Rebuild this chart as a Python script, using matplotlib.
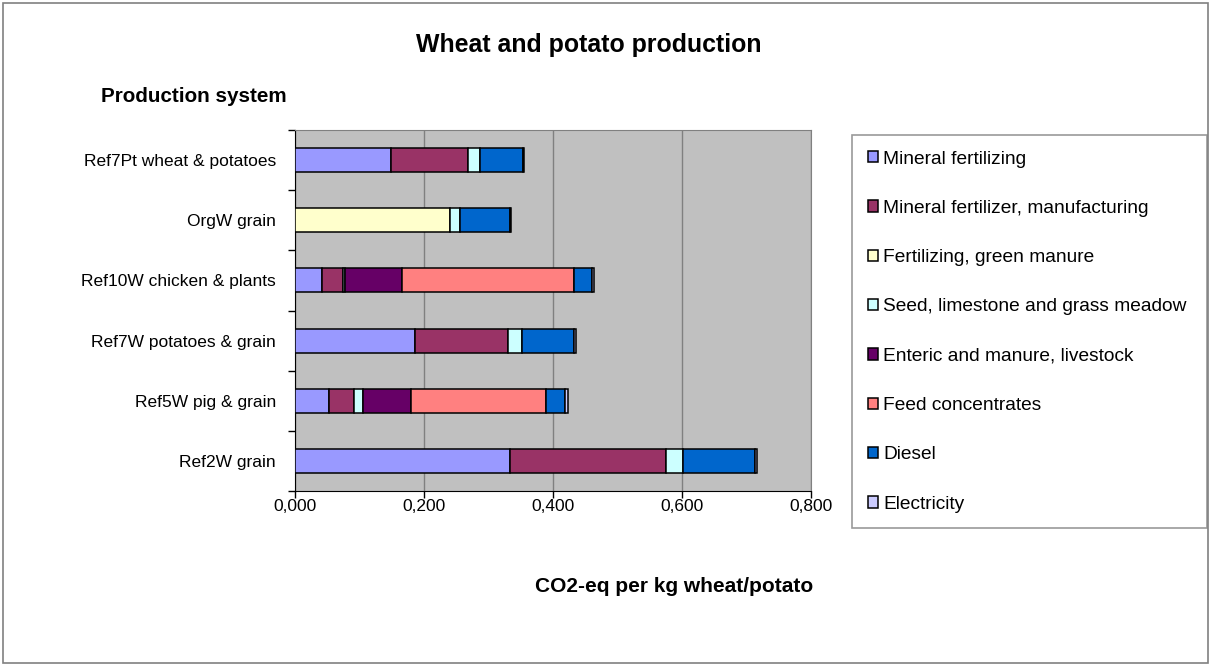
import numpy as np
import matplotlib
matplotlib.use("Agg")
import matplotlib.pyplot as plt
from matplotlib.patches import Rectangle
from matplotlib.ticker import FuncFormatter

plt.rcParams['font.family'] = ['Liberation Sans', 'DejaVu Sans']

# categories, top to bottom
systems = ["Ref7Pt wheat & potatoes", "OrgW grain", "Ref10W chicken & plants",
           "Ref7W potatoes & grain", "Ref5W pig & grain", "Ref2W grain"]

# CO2-eq per kg wheat/potato, per source
mineral_fert = [0.149, 0.000, 0.042, 0.186, 0.053, 0.333]
mineral_mfg = [0.119, 0.000, 0.033, 0.145, 0.039, 0.242]
green_manure = [0.000, 0.240, 0.000, 0.000, 0.000, 0.000]
seed_lime = [0.019, 0.016, 0.003, 0.021, 0.013, 0.027]
enteric = [0.000, 0.000, 0.088, 0.000, 0.075, 0.000]
feed_conc = [0.000, 0.000, 0.267, 0.000, 0.209, 0.000]
diesel = [0.066, 0.077, 0.027, 0.080, 0.030, 0.111]
electricity = [0.002, 0.002, 0.004, 0.004, 0.005, 0.004]

series = [
    ("Mineral fertilizing", mineral_fert, "#9999FF"),
    ("Mineral fertilizer, manufacturing", mineral_mfg, "#993366"),
    ("Fertilizing, green manure", green_manure, "#FFFFCC"),
    ("Seed, limestone and grass meadow", seed_lime, "#CCFFFF"),
    ("Enteric and manure, livestock", enteric, "#660066"),
    ("Feed concentrates", feed_conc, "#FF8080"),
    ("Diesel", diesel, "#0066CC"),
    ("Electricity", electricity, "#CCCCFF"),
]

W, H = 1212, 666
fig = plt.figure(figsize=(W / 100, H / 100), dpi=100)
fig.patches.append(Rectangle((3 / W, 3 / H), 1205 / W, 660 / H, transform=fig.transFigure,
                             fill=False, edgecolor="#808080", linewidth=1.2))

ax = fig.add_axes([295 / W, (H - 491) / H, 516 / W, 361 / H])
ax.set_facecolor("#C0C0C0")

y = np.arange(len(systems))
left = np.zeros(len(systems))
handles = []
for name, vals, col in series:
    vals = np.array(vals)
    nz = vals > 0
    ax.barh(y[nz], vals[nz], left=left[nz], height=0.4, color=col,
            edgecolor="black", linewidth=1.1, zorder=3)
    handles.append(Rectangle((0, 0), 1, 1, facecolor=col, edgecolor="black", linewidth=1.1,
                             label=name))
    left += vals

ax.set_xlim(0, 0.8)
ax.set_ylim(len(systems) - 0.5, -0.5)
ax.set_xticks(np.arange(0, 0.81, 0.2))
ax.xaxis.set_major_formatter(FuncFormatter(lambda v, p: f"{v:.3f}".replace(".", ",")))
ax.set_yticks(y)
ax.set_yticklabels(systems)
ax.set_yticks(np.arange(-0.5, len(systems)), minor=True)
ax.tick_params(axis="y", which="major", length=0, pad=13.7, labelsize=12.5)
ax.tick_params(axis="y", which="minor", length=5, direction="out", width=1)
ax.tick_params(axis="x", length=5, direction="out", width=1, pad=1, labelsize=12.5)
ax.grid(axis="x", color="#808080", linewidth=1, zorder=0)
ax.set_axisbelow(True)
for s in ["top", "right"]:
    ax.spines[s].set_color("#808080")
for s in ["left", "bottom"]:
    ax.spines[s].set_color("black")

fig.text(589 / W, 1 - 45 / H, "Wheat and potato production", ha="center", va="center",
         fontsize=17.9, fontweight="bold")
fig.text(101 / W, 1 - 96 / H, "Production system", ha="left", va="center",
         fontsize=14.9, fontweight="bold")
fig.text(674 / W, 1 - 587 / H, "CO2-eq per kg wheat/potato", ha="center", va="center",
         fontsize=15, fontweight="bold")

leg = fig.legend(handles=handles, loc="upper left",
                 bbox_to_anchor=(852 / W, 1 - 527 / H, 355 / W, 392 / H), mode="expand",
                 fontsize=13.8, frameon=True, fancybox=False, edgecolor="#808080",
                 handlelength=0.54, handleheight=0.54, handletextpad=0.27,
                 labelspacing=1.685, borderpad=0.81, borderaxespad=0)
leg.get_frame().set_linewidth(1.2)

fig.savefig("out.png", dpi=100)
